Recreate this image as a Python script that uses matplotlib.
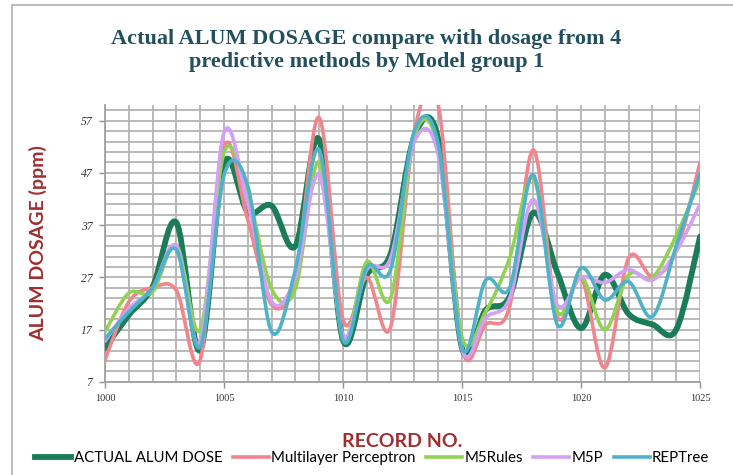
import numpy as np
import matplotlib.pyplot as plt
from matplotlib.path import Path
from matplotlib.patches import PathPatch, Rectangle
from matplotlib.lines import Line2D

records = list(range(1000, 1026))

actual = [13.5, 19.8, 25.2, 37.5, 13.1, 48.8, 39.5, 40.7, 33.0, 53.4, 15.0, 27.5, 31.5,
          54.0, 53.5, 13.5, 20.8, 23.3, 39.4, 28.0, 17.3, 27.5, 20.0, 18.0, 17.0, 34.8]
mlp = [11.2, 22.3, 25.0, 24.5, 11.2, 52.0, 38.0, 21.8, 27.0, 57.6, 18.9, 27.0, 17.5,
       55.0, 60.0, 13.5, 18.0, 21.4, 51.4, 19.6, 27.0, 9.7, 30.7, 27.2, 32.0, 49.0]
m5rules = [16.6, 24.0, 24.2, 33.2, 17.0, 50.9, 43.0, 24.8, 24.8, 49.0, 15.5, 30.0, 23.0,
           54.0, 52.0, 15.6, 20.5, 30.7, 46.0, 20.5, 27.2, 17.0, 27.5, 27.0, 35.0, 45.7]
m5p = [14.8, 21.0, 25.0, 33.0, 14.5, 54.7, 41.0, 22.4, 27.0, 46.6, 16.0, 28.5, 30.7,
       53.0, 50.5, 13.3, 19.3, 23.0, 41.9, 21.8, 27.0, 26.0, 28.5, 26.5, 32.0, 41.0]
reptree = [15.3, 20.4, 25.0, 32.3, 13.7, 46.5, 44.5, 16.6, 28.5, 51.4, 15.0, 29.0, 28.5,
           55.0, 52.5, 13.5, 26.5, 25.0, 46.6, 18.0, 28.8, 22.7, 26.2, 19.5, 33.0, 47.0]

series = [
    ("ACTUAL ALUM DOSE", actual, "#1b7d58", 4.2),
    ("Multilayer Perceptron", mlp, "#f2858c", 2.6),
    ("M5Rules", m5rules, "#93d152", 2.6),
    ("M5P", m5p, "#d3a0f4", 2.6),
    ("REPTree", reptree, "#4fb2c9", 2.6),
]

sans = ["Lato", "DejaVu Sans"]


def smooth_path(xs, ys):
    # Catmull-Rom segments written as cubic Bezier curves
    pts = np.column_stack([xs, ys]).astype(float)
    n = len(pts)
    verts = [pts[0]]
    codes = [Path.MOVETO]
    for i in range(n - 1):
        p0 = pts[i - 1] if i > 0 else pts[i]
        p1 = pts[i]
        p2 = pts[i + 1]
        p3 = pts[i + 2] if i + 2 < n else pts[i + 1]
        c1 = p1 + (p2 - p0) / 6.0
        c2 = p2 - (p3 - p1) / 6.0
        verts += [c1, c2, p2]
        codes += [Path.CURVE4] * 3
    return Path(verts, codes)


fig = plt.figure(figsize=(7.33, 4.75), dpi=100)
ax = fig.add_axes([0.1432, 0.196, 0.8118, 0.583])

for label, vals, color, lw in series:
    patch = PathPatch(smooth_path(records, vals), facecolor="none", edgecolor=color,
                      lw=lw, capstyle="round", joinstyle="round", zorder=3)
    ax.add_patch(patch)

ax.set_xlim(1000, 1025)
ax.set_ylim(7, 60)
ax.set_xticks(range(1000, 1026, 5))
ax.set_xticks(range(1000, 1026), minor=True)
ax.set_yticks(range(7, 58, 10))
ax.set_yticks(range(7, 61, 2), minor=True)
ax.grid(True, which="both", color="#b4b4b4", lw=1.3)
ax.set_axisbelow(True)
ax.tick_params(which="minor", length=0)
ax.tick_params(which="major", length=4, color="#909090", width=1, pad=5)
for spine in ["top", "right"]:
    ax.spines[spine].set_visible(False)
for spine in ["left", "bottom"]:
    ax.spines[spine].set_color("#a0a0a0")
    ax.spines[spine].set_linewidth(1.3)

for t in ax.get_xticklabels():
    t.set_fontfamily("Liberation Serif")
    t.set_fontsize(7.5)
    t.set_color("#333333")
for t in ax.get_yticklabels():
    t.set_fontfamily("Liberation Serif")
    t.set_fontsize(8.5)
    t.set_fontstyle("italic")
    t.set_color("#333333")

ax.set_ylabel("ALUM DOSAGE (ppm)", fontsize=14, fontweight="bold", color="#9e2f2e",
              family=sans, labelpad=24)
ax.set_xlabel("RECORD NO.", fontsize=14, fontweight="bold", color="#9e2f2e",
              family=sans, labelpad=21)

fig.text(0.5, 0.893, "Actual ALUM DOSAGE compare with dosage from 4\npredictive methods by Model group 1",
         ha="center", va="center", fontsize=16, fontweight="bold", color="#22505e",
         family="Liberation Serif", linespacing=1.2)

handles = [Line2D([], [], color=c, lw=lw) for _, _, c, lw in series]
labels = [s[0] for s in series]
fig.legend(handles, labels, loc="center left", bbox_to_anchor=(0.03, 0.035), ncol=5,
           frameon=False, handlelength=2.4, handletextpad=0.15, columnspacing=0.7,
           prop={"family": sans, "size": 10.8})

fig.add_artist(Rectangle((0.016, -0.1), 1.2, 1.09, transform=fig.transFigure,
                         fill=False, edgecolor="#bdbdbd", lw=1.5))

fig.savefig("out.png", dpi=100)
